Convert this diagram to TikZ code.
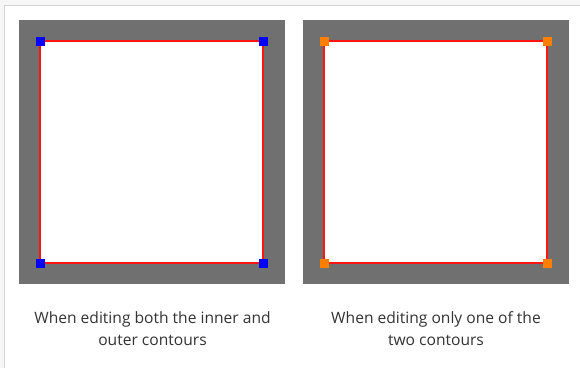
\documentclass[tikz,border=0pt]{standalone}
\usepackage{fontspec}
\setmainfont{Open Sans}
\definecolor{pagegray}{RGB}{246,246,246}
\definecolor{framegray}{RGB}{212,212,212}
\definecolor{panelgray}{RGB}{112,112,112}
\definecolor{contourred}{RGB}{255,20,20}
\definecolor{handleblue}{RGB}{0,0,255}
\definecolor{handleorange}{RGB}{255,128,0}
\definecolor{captiongray}{RGB}{51,51,51}
\tikzset{
  handle/.style={rectangle,minimum size=9pt,inner sep=0pt},
  caption/.style={align=center,anchor=base,text=captiongray,
    font=\fontsize{15.6}{21.5}\selectfont}
}
\begin{document}
\begin{tikzpicture}[x=1pt,y=-1pt]
			\useasboundingbox (0,0) rectangle (580,368);
			\fill[pagegray] (0,0) rectangle (580,368);
			\fill[white] (4.5,5.5) rectangle (580,368);
			\draw[framegray,line width=1.2pt] (4.5,368) -- (4.5,5.5) -- (580,5.5);
			% left panel
			\fill[panelgray] (19,20) rectangle (285,284);
			\draw[contourred,line width=1.5pt,fill=white] (40,41) rectangle (263,263);
			\node[handle,fill=handleblue] (bothNW) at (40,41) {};
			\node[handle,fill=handleblue] (bothNE) at (263,41) {};
			\node[handle,fill=handleblue] (bothSW) at (40,263) {};
			\node[handle,fill=handleblue] (bothSE) at (263,263) {};
			\node[caption] (bothText) at (152.5,345) {When editing both the inner and\\outer contours};
			% right panel
			\fill[panelgray] (303,20) rectangle (569,284);
			\draw[contourred,line width=1.5pt,fill=white] (324,41) rectangle (547,263);
			\node[handle,fill=handleorange] (oneNW) at (324,41) {};
			\node[handle,fill=handleorange] (oneNE) at (547,41) {};
			\node[handle,fill=handleorange] (oneSW) at (324,263) {};
			\node[handle,fill=handleorange] (oneSE) at (547,263) {};
			\node[caption] (oneText) at (436,345) {When editing only one of the\\two contours};
\end{tikzpicture}
\end{document}
